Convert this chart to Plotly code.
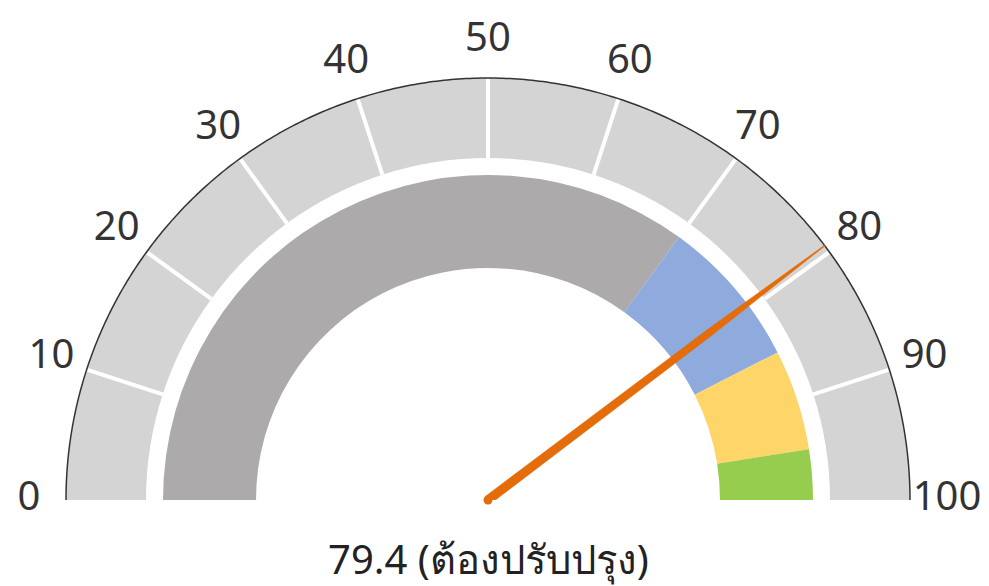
import math
import plotly.graph_objects as go

# ---- data ----
tick_values = [0, 10, 20, 30, 40, 50, 60, 70, 80, 90, 100]
tick_labels = [str(v) for v in tick_values]
band_starts = [0, 70, 85, 95]
band_ends = [70, 85, 95, 100]
band_colors = ["#ADAAAB", "#8FAADC", "#FDD569", "#96CD4E"]
score = 79.4
score_label = "79.4 (ต้องปรับปรุง)"

# ---- geometry (radial units = px) ----
R_MAX = 480
R_OUT = 422
R_OUT_IN = 342
R_IN_OUT = 325
R_IN_IN = 232
R_LABEL = 459
DEG = 1.8  # 100 -> 180 degrees

fig = go.Figure()

# outer scale band, one bar per 10 units
seg_lo = tick_values[:-1]
seg_hi = tick_values[1:]
fig.add_trace(go.Barpolar(
    theta=[(a + b) / 2 * DEG for a, b in zip(seg_lo, seg_hi)],
    width=[(b - a) * DEG for a, b in zip(seg_lo, seg_hi)],
    r=[R_OUT - R_OUT_IN] * len(seg_lo),
    base=[R_OUT_IN] * len(seg_lo),
    marker=dict(color="#D4D4D4", line=dict(width=0)),
    hoverinfo="skip", showlegend=False,
))

# separators
for v in tick_values[1:-1]:
    fig.add_trace(go.Scatterpolar(
        r=[R_OUT_IN, R_OUT - 1], theta=[v * DEG, v * DEG], mode="lines",
        line=dict(color="white", width=4), hoverinfo="skip", showlegend=False,
    ))

# outer arc line
arc_theta = [i * 0.5 for i in range(361)]
fig.add_trace(go.Scatterpolar(
    r=[R_OUT] * len(arc_theta), theta=arc_theta, mode="lines",
    line=dict(color="#333333", width=1.5), hoverinfo="skip", showlegend=False,
))

# inner coloured band
fig.add_trace(go.Barpolar(
    theta=[(a + b) / 2 * DEG for a, b in zip(band_starts, band_ends)],
    width=[(b - a) * DEG for a, b in zip(band_starts, band_ends)],
    r=[R_IN_OUT - R_IN_IN] * len(band_starts),
    base=[R_IN_IN] * len(band_starts),
    marker=dict(color=band_colors, line=dict(width=0)),
    hoverinfo="skip", showlegend=False,
))

# needle: tapered shape (distance along needle, half width) + rounded base
th = score * DEG
prof_d = [0.01, 280, R_OUT]
prof_w = [4.5, 3.6, 0.4]
nr, nt = [], []
for d, w in zip(prof_d, prof_w):
    nr.append(math.hypot(d, w))
    nt.append(th - math.degrees(math.atan2(w, d)))
for d, w in zip(reversed(prof_d), reversed(prof_w)):
    nr.append(math.hypot(d, w))
    nt.append(th + math.degrees(math.atan2(w, d)))
nr.append(nr[0])
nt.append(nt[0])
fig.add_trace(go.Scatterpolar(
    r=nr, theta=nt, mode="lines", fill="toself", fillcolor="#E46C0A",
    line=dict(color="#E46C0A", width=0.5),
    hoverinfo="skip", showlegend=False, cliponaxis=False,
))
fig.add_trace(go.Scatterpolar(
    r=[0], theta=[th], mode="markers",
    marker=dict(color="#E46C0A", size=9, line=dict(width=0)),
    hoverinfo="skip", showlegend=False, cliponaxis=False,
))

# tick labels
fig.add_trace(go.Scatterpolar(
    r=[R_LABEL] * len(tick_values), theta=[v * DEG for v in tick_values],
    mode="text", text=tick_labels, textposition="middle center",
    textfont=dict(size=40, color="#333333", family="Noto Sans, sans-serif"),
    hoverinfo="skip", showlegend=False, cliponaxis=False,
))

W, H = 989, 586
OFF = 8  # browser body margin
CX, CY = 488 - OFF, 500 - OFF
fig.update_layout(
    width=W, height=H,
    margin=dict(l=0, r=0, t=0, b=0),
    paper_bgcolor="white",
    font=dict(family="Noto Sans, sans-serif", color="#333333"),
    polar=dict(
        domain=dict(x=[(CX - R_MAX) / W, (CX + R_MAX) / W],
                    y=[(H - CY) / H, (H - CY + R_MAX) / H]),
        sector=[0, 180],
        bgcolor="rgba(0,0,0,0)",
        hole=0,
        radialaxis=dict(visible=False, range=[0, R_MAX]),
        angularaxis=dict(
            rotation=180, direction="clockwise",
            showticklabels=False, ticks="",
            showgrid=False, showline=False,
        ),
    ),
    annotations=[dict(
        text=score_label, x=(488 - OFF) / W, y=(H - (558 - OFF)) / H,
        xref="paper", yref="paper", showarrow=False,
        xanchor="center", yanchor="middle", borderpad=0,
        font=dict(size=40, color="#222222"),
    )],
)

fig.write_html("out.html")
